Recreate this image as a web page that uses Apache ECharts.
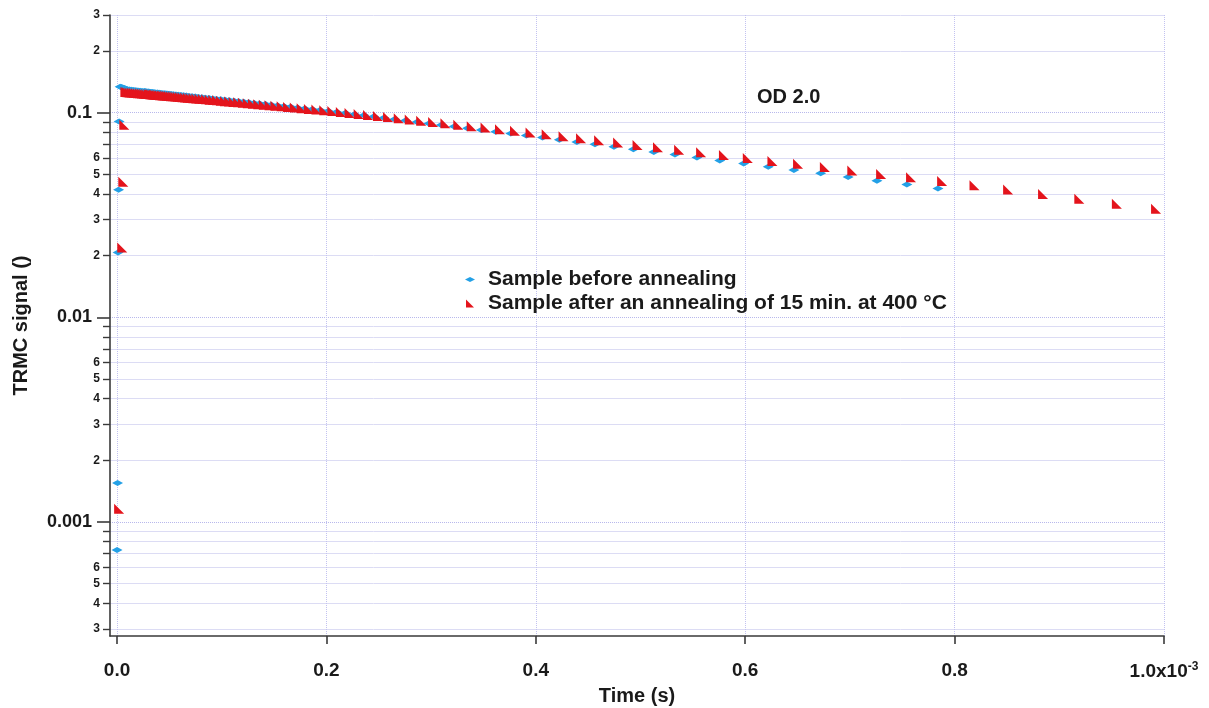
<!DOCTYPE html>
<html>
<head>
<meta charset="utf-8">
<script src="https://cdn.jsdelivr.net/npm/echarts@6/dist/echarts.min.js"></script>
<style>
  html, body { margin: 0; padding: 0; background: #fff; }
  #chart { width: 1209px; height: 708px; }
</style>
</head>
<body>
<div id="chart"></div>
<script>
// ---- Data (time in units of 1e-3 s, TRMC signal) ----
const seriesNames = ['Sample before annealing', 'Sample after an annealing of 15 min. at 400 °C'];

const blueTime = [0.0000,0.0005,0.0010,0.0015,0.0020,0.003,0.004,0.005,0.006,0.007,0.008,0.010,0.012,0.014,0.016,0.018,0.020,0.022,0.024,
0.0262,0.0274,0.0286,0.0299,0.0312,0.0326,0.0340,0.0355,0.0370,0.0387,0.0403,0.0421,0.0439,0.0457,0.0477,0.0497,0.0518,0.0540,0.0563,0.0586,0.0611,0.0636,0.0662,0.0690,0.0718,0.0748,0.0779,0.0811,0.0845,0.0879,0.0915,0.0952,0.0991,
0.1031,0.1073,0.1117,0.1162,0.1209,0.1258,0.1309,0.1362,0.1417,0.1473,0.1533,0.1594,0.1658,0.1724,0.1793,0.1865,0.1940,
0.2017,0.2098,0.2181,0.2268,0.2358,0.2452,0.2549,0.2651,0.2756,0.2865,0.2979,0.3097,0.3220,0.3348,0.3480,0.3618,0.3761,0.3910,
0.4064,0.4225,0.4392,0.4565,0.4746,0.4932,0.5127,0.5329,0.5539,0.5757,0.5985,
0.6220,0.6465,0.6721,0.6983,0.7258,0.7544,0.7841];

const blueSignal = [0.00073,0.00155,0.0207,0.0420,0.0904,0.1340,0.1334,0.1328,0.1322,0.1317,0.1311,0.1300,0.1297,0.1293,0.1290,0.1287,0.1284,0.1280,0.1277,
0.1274,0.1272,0.1270,0.1268,0.1266,0.1263,0.1261,0.1259,0.1256,0.1254,0.1251,0.1248,0.1245,0.1243,0.1239,0.1236,0.1233,0.1230,0.1226,0.1222,0.1219,0.1215,0.1211,0.1206,0.1202,0.1198,0.1193,0.1188,0.1183,0.1178,0.1173,0.1167,0.1161,
0.1155,0.1149,0.1143,0.1136,0.1130,0.1123,0.1116,0.1108,0.1101,0.1093,0.1085,0.1076,0.1067,0.1058,0.1049,0.1040,0.1030,
0.1019,0.1007,0.0995,0.0983,0.0970,0.0957,0.0943,0.0929,0.0915,0.0901,0.0886,0.0871,0.0855,0.0839,0.0823,0.0807,0.0790,0.0773,
0.0756,0.0737,0.0719,0.0700,0.0681,0.0662,0.0643,0.0624,0.0604,0.0584,0.0565,
0.0544,0.0525,0.0505,0.0485,0.0465,0.0445,0.0426];

const redTime = [0.002,0.005,0.006,0.007,0.008,0.009,0.010,0.012,0.014,0.016,0.018,0.020,0.022,0.024,0.026,0.028,
0.0302,0.0314,0.0326,0.0339,0.0352,0.0366,0.0380,0.0395,0.0410,0.0427,0.0443,0.0461,0.0479,0.0497,0.0517,0.0537,0.0558,0.0580,0.0603,0.0626,0.0651,0.0676,0.0702,0.0730,0.0758,0.0788,0.0819,0.0851,0.0885,0.0919,0.0955,0.0992,
0.1031,0.1071,0.1113,0.1157,0.1202,0.1249,0.1298,0.1349,0.1402,0.1457,0.1513,0.1573,0.1634,0.1698,0.1764,0.1833,0.1905,0.1980,
0.2057,0.2138,0.2221,0.2308,0.2398,0.2492,0.2589,0.2691,0.2796,0.2905,0.3019,0.3137,0.3260,0.3388,0.3520,0.3658,0.3801,0.3950,
0.4104,0.4265,0.4432,0.4605,0.4786,0.4972,0.5167,0.5369,0.5579,0.5797,
0.6025,0.6260,0.6505,0.6761,0.7023,0.7298,0.7584,0.7881,
0.8190,0.8511,0.8845,0.9191,0.9550,0.9924];

const redSignal = [0.00116,0.0219,0.0460,0.0873,0.1262,0.1260,0.1259,0.1256,0.1254,0.1251,0.1248,0.1245,0.1243,0.1240,0.1237,0.1235,
0.1232,0.1230,0.1229,0.1227,0.1225,0.1223,0.1221,0.1219,0.1217,0.1215,0.1213,0.1211,0.1208,0.1206,0.1203,0.1201,0.1198,0.1195,0.1192,0.1189,0.1186,0.1183,0.1180,0.1176,0.1172,0.1169,0.1165,0.1161,0.1156,0.1152,0.1148,0.1143,
0.1138,0.1133,0.1128,0.1123,0.1117,0.1112,0.1106,0.1100,0.1093,0.1087,0.1080,0.1073,0.1066,0.1059,0.1051,0.1043,0.1035,0.1027,
0.1018,0.1007,0.0997,0.0986,0.0974,0.0963,0.0951,0.0939,0.0926,0.0914,0.0901,0.0887,0.0873,0.0859,0.0845,0.0830,0.0815,0.0800,
0.0785,0.0767,0.0750,0.0732,0.0714,0.0695,0.0677,0.0658,0.0640,0.0620,
0.0601,0.0581,0.0562,0.0542,0.0522,0.0502,0.0483,0.0463,
0.0442,0.0421,0.0400,0.0379,0.0359,0.0339];

// ---- Tick values ----
const xTicks = [0, 0.2, 0.4, 0.6, 0.8, 1.0];
const yDecadeTicks = [0.001, 0.01, 0.1];
const yMinorTicks = [0.0003,0.0004,0.0005,0.0006,0.0007,0.0008,0.0009,
  0.002,0.003,0.004,0.005,0.006,0.007,0.008,0.009,
  0.02,0.03,0.04,0.05,0.06,0.07,0.08,0.09,
  0.2,0.3];
const yMinorLabels = [0.0003,0.0004,0.0005,0.0006,
  0.002,0.003,0.004,0.005,0.006,
  0.02,0.03,0.04,0.05,0.06,
  0.2,0.3];

const FONT = '"Liberation Sans", Arial, sans-serif';
const BLUE = '#23a0e6';
const RED = '#e4141c';
const AXIS = '#3a3a3a';
const TXT = '#1a1a1a';
const Y_MIN = 0.000277, Y_MAX = 0.3;

const chart = echarts.init(document.getElementById('chart'), null, { renderer: 'canvas' });

const yBase = {
  type: 'log', logBase: 10, min: Y_MIN, max: Y_MAX, position: 'left'
};

const option = {
  animation: false,
  backgroundColor: '#ffffff',
  grid: { left: 110, right: 45, top: 15, bottom: 72, containLabel: false, outerBoundsMode: 'none' },
  legend: {
    orient: 'vertical',
    left: 460, top: 264,
    itemWidth: 10, itemHeight: 8, itemGap: 3,
    textStyle: { fontFamily: FONT, fontWeight: 'bold', fontSize: 21, color: TXT, lineHeight: 21, padding: [0, 0, 0, 8] },
    data: [
      { name: seriesNames[0], icon: 'path://M0,2.5L5,0L10,2.5L5,5Z' },
      { name: seriesNames[1], icon: 'path://M0,0L0,10L10,10Z' }
    ]
  },
  graphic: [{
    type: 'text', left: 757, top: 87,
    style: { text: 'OD 2.0', font: 'bold 20px ' + FONT, fill: TXT }
  }],
  xAxis: {
    type: 'value', min: -0.0067, max: 1.0,
    name: 'Time (s)', nameLocation: 'middle', nameGap: 50,
    nameTextStyle: { fontFamily: FONT, fontWeight: 'bold', fontSize: 20, color: TXT },
    axisLine: { onZero: false, lineStyle: { color: AXIS, width: 1.6 } },
    axisTick: { customValues: xTicks, length: 8, inside: false, lineStyle: { color: AXIS, width: 1.6 } },
    axisLabel: {
      customValues: xTicks, margin: 25,
      fontFamily: FONT, fontWeight: 'bold', fontSize: 19, color: TXT,
      formatter: function (v) {
        if (Math.abs(v - 1) < 1e-9) return '1.0x10{sup|-3}';
        return v.toFixed(1);
      },
      rich: { sup: { fontFamily: FONT, fontWeight: 'bold', fontSize: 12, color: TXT, verticalAlign: 'top', padding: [0, 0, 9, 0] } }
    },
    splitLine: { show: true, lineStyle: { color: '#c2c2f0', type: 'dotted', width: 1 } }
  },
  yAxis: [
    Object.assign({}, yBase, {
      name: 'TRMC signal ()', nameLocation: 'middle', nameGap: 79,
      nameTextStyle: { fontFamily: FONT, fontWeight: 'bold', fontSize: 20, color: TXT },
      axisLine: { show: true, onZero: false, lineStyle: { color: AXIS, width: 1.6 } },
      axisTick: { show: true, customValues: yDecadeTicks, length: 13, lineStyle: { color: AXIS, width: 1.6 } },
      axisLabel: {
        customValues: yDecadeTicks, margin: 18,
        fontFamily: FONT, fontWeight: 'bold', fontSize: 18, color: TXT,
        formatter: function (v) { return String(v); }
      },
      splitLine: { show: true, lineStyle: { color: '#b8b8ec', type: 'dotted', width: 1 } }
    }),
    Object.assign({}, yBase, {
      axisLine: { show: false, onZero: false },
      axisTick: { show: true, customValues: yMinorTicks, length: 7, lineStyle: { color: AXIS, width: 1.4 } },
      axisLabel: {
        customValues: yMinorLabels, margin: 10,
        fontFamily: FONT, fontWeight: 'bold', fontSize: 12, color: TXT,
        formatter: function (v) {
          const e = Math.floor(Math.log10(v) + 1e-9);
          return String(Math.round(v / Math.pow(10, e)));
        }
      },
      splitLine: { show: true, lineStyle: { color: '#dcdcf4', type: 'solid', width: 1 } }
    })
  ],
  series: [
    {
      name: seriesNames[0], type: 'scatter', xAxisIndex: 0, yAxisIndex: 0,
      symbol: 'diamond', symbolSize: [11, 6],
      itemStyle: { color: BLUE, opacity: 1 },
      data: blueTime.map(function (t, i) { return [t, blueSignal[i]]; })
    },
    {
      name: seriesNames[1], type: 'scatter', xAxisIndex: 0, yAxisIndex: 0,
      symbol: 'path://M0,0L0,10L10,10Z', symbolSize: [10, 10],
      itemStyle: { color: RED, opacity: 1 },
      data: redTime.map(function (t, i) { return [t, redSignal[i]]; })
    }
  ]
};

chart.setOption(option);
</script>
</body>
</html>
